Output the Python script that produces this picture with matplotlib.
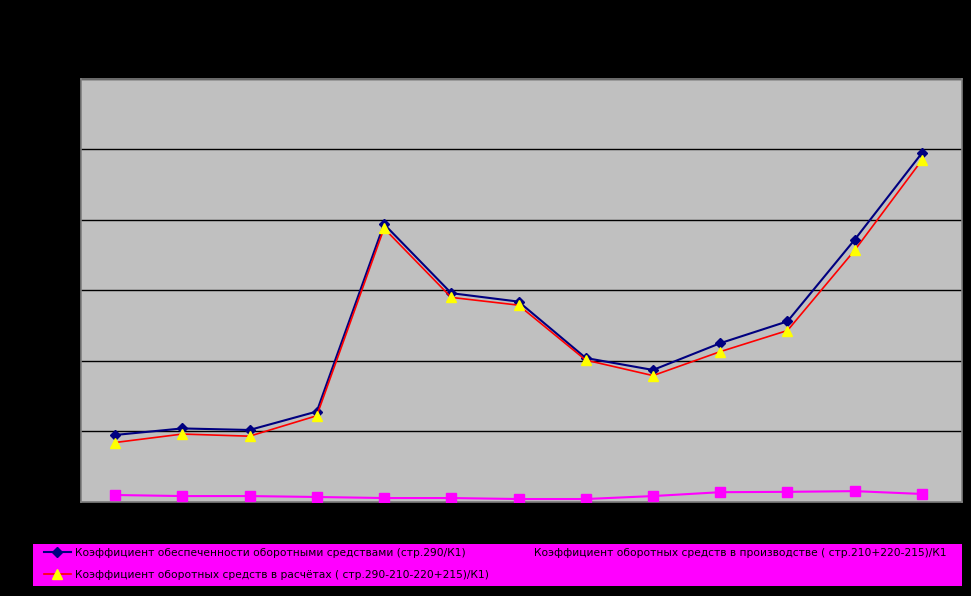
import matplotlib
matplotlib.use("Agg")
import matplotlib.pyplot as plt
from matplotlib.lines import Line2D
from matplotlib.patches import Rectangle

plt.rcParams['font.family'] = ['DejaVu Sans']

# Data (13 periods; category labels not visible in the reference)
periods = list(range(1, 14))
k_provision = [0.947, 1.04, 1.018, 1.28, 3.94, 2.96, 2.84, 2.04, 1.87, 2.25, 2.56, 3.72, 4.95]
k_production = [0.095, 0.08, 0.08, 0.067, 0.052, 0.052, 0.038, 0.038, 0.08, 0.135, 0.14, 0.15, 0.11]
k_settlements = [0.84, 0.96, 0.93, 1.22, 3.88, 2.90, 2.79, 2.01, 1.79, 2.13, 2.43, 3.57, 4.85]

labels = [
    "Коэффициент обеспеченности оборотными средствами (стр.290/К1)",
    "Коэффициент оборотных средств в производстве ( стр.210+220-215)/К1",
    "Коэффициент оборотных средств в расчётах ( стр.290-210-220+215)/К1)",
]
y_ticks = [0, 1, 2, 3, 4, 5, 6]

W, H = 971, 596
fig = plt.figure(figsize=(W / 100, H / 100), dpi=100, facecolor='black')
ax = fig.add_axes([81/W, (H-501.7)/H, (962-81)/W, (501.7-79)/H])
ax.set_facecolor('#C0C0C0')

x = list(range(len(periods)))
l1, = ax.plot(x, k_provision, color='#000080', lw=1.5, marker='D', ms=5,
              mfc='#000080', mec='#000080', zorder=3)
l2, = ax.plot(x, k_production, color='#FF00FF', lw=1.5, marker='s', ms=7,
              mfc='#FF00FF', mec='#FF00FF', zorder=3)
l3, = ax.plot(x, k_settlements, color='#FF0000', lw=1.2, marker='^', ms=7,
              mfc='#FFFF00', mec='#FFFF00', zorder=4)

ax.set_xlim(-0.506, 12.595)
ax.set_ylim(0, 6)
ax.set_yticks(y_ticks)
ax.set_xticks([])
ax.set_yticklabels([])
ax.tick_params(colors='black', length=3)
ax.yaxis.grid(True, color='black', lw=1)
ax.set_axisbelow(True)
for s in ax.spines.values():
    s.set_color('#808080')
    s.set_linewidth(1.2)

# legend background box
fig.patches.append(Rectangle((33/W, (H-586)/H), (962-33)/W, 42/H,
                             transform=fig.transFigure, facecolor='#FF00FF',
                             edgecolor='none', zorder=0))

h1 = Line2D([], [], color='#000080', lw=1.5, marker='D', ms=5, mfc='#000080', mec='#000080')
h2 = Line2D([], [], color='#FF00FF', lw=1.5, marker='s', ms=7, mfc='#FF00FF', mec='#FF00FF')
h3 = Line2D([], [], color='#FF0000', lw=1.2, marker='^', ms=7, mfc='#FFFF00', mec='#FFFF00')
leg = fig.legend([h1, h3, h2], [labels[0], labels[2], labels[1]],
                 loc='upper left',
                 bbox_to_anchor=(44/W, (H-547.6)/H, (947-44)/W, 1e-6),
                 mode='expand', ncol=2, fontsize=7.7, frameon=False,
                 handlelength=2.5, handletextpad=0.4,
                 labelspacing=1.15, borderaxespad=0, borderpad=0)
for t in leg.get_texts():
    t.set_color('black')

fig.savefig('out.png', dpi=100, facecolor='black')
